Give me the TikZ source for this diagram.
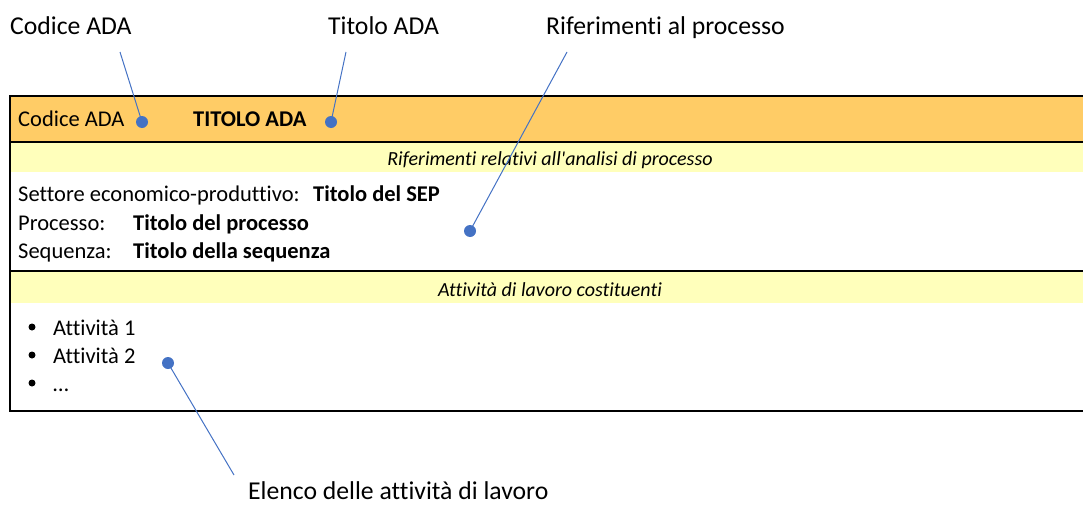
\documentclass[tikz,border=0pt]{standalone}
\usepackage{fontspec}
\setmainfont{Carlito}[Ligatures=NoCommon]
\usetikzlibrary{positioning}

\definecolor{adaorange}{RGB}{255,204,102}
\definecolor{adayellow}{RGB}{255,255,187}
\definecolor{adablue}{RGB}{68,114,196}

\tikzset{
  bluedot/.style={circle, fill=adablue, inner sep=0pt, minimum size=12pt},
  conn/.style={adablue, line width=1pt},
  txt/.style={anchor=base west, inner sep=0pt, font=\fontsize{22.5}{24}\selectfont},
  bold/.style={txt, font=\fontsize{22.5}{24}\selectfont\bfseries},
  head/.style={anchor=base, inner sep=0pt, font=\fontsize{20}{22}\selectfont\itshape},
  lbl/.style={anchor=base west, inner sep=0pt, font=\fontsize{25.7}{27}\selectfont},
}

\begin{document}
\begin{tikzpicture}[x=1pt, y=-1pt]
\useasboundingbox (0,0) rectangle (1083,506);
% bands of the card
\fill[adaorange] (10,96) rectangle (1083,142);
\fill[adayellow] (10,142) rectangle (1083,172);
\fill[adayellow] (10,271) rectangle (1083,303);
\draw[line width=2.5pt] (10,96) -- (1083,96);
\draw[line width=1.5pt] (10,142) -- (1083,142);
\draw[line width=1.5pt] (10,271) -- (1083,271);
\draw[line width=2.5pt] (10,411) -- (1083,411);
\draw[line width=1.5pt] (10,95) -- (10,412);

% texts of the card
\node[txt] (codice) at (18,126) {Codice ADA};
\node[bold] (titolo) at (193,126) {TITOLO ADA};
\node[head] (rifhead) at (550,165) {Riferimenti relativi all\textquotesingle analisi di processo};
\node[txt] (settore) at (18,201) {Settore economico-produttivo:};
\node[bold] (sep) at (313,201) {Titolo del SEP};
\node[txt] (processo) at (18,230) {Processo:};
\node[bold] (tproc) at (133,230) {Titolo del processo};
\node[txt] (sequenza) at (18,258) {Sequenza:};
\node[bold] (tseq) at (133,258) {Titolo della sequenza};
\node[head] (atthead) at (550,296) {Attività di lavoro costituenti};
\foreach \n / \y / \t in {a1/335/Attività 1, a2/363/Attività 2, a3/391/…} {
  \fill (32,\y-8) circle (3.5pt);
  \node[txt] (\n) at (53,\y) {\t};
}

% callouts
\node[lbl] (lcod) at (10,34) {Codice ADA};
\node[lbl] (ltit) at (328,34) {Titolo ADA};
\node[lbl] (lrif) at (546,34) {Riferimenti al processo};
\node[lbl] (lel) at (248,499) {Elenco delle attività di lavoro};

\node[bluedot] (dcod) at (142,122) {};
\node[bluedot] (dtit) at (331,122) {};
\node[bluedot] (drif) at (470,231) {};
\node[bluedot] (del) at (168,363) {};

\coordinate (ecod) at (120,52);
\coordinate (etit) at (346,52);
\coordinate (erif) at (567,52);
\coordinate (eel) at (234,475);

\draw[conn] (dcod.center) -- (ecod);
\draw[conn] (dtit.center) -- (etit);
\draw[conn] (drif.center) -- (erif);
\draw[conn] (del.center) -- (eel);
\end{tikzpicture}
\end{document}
